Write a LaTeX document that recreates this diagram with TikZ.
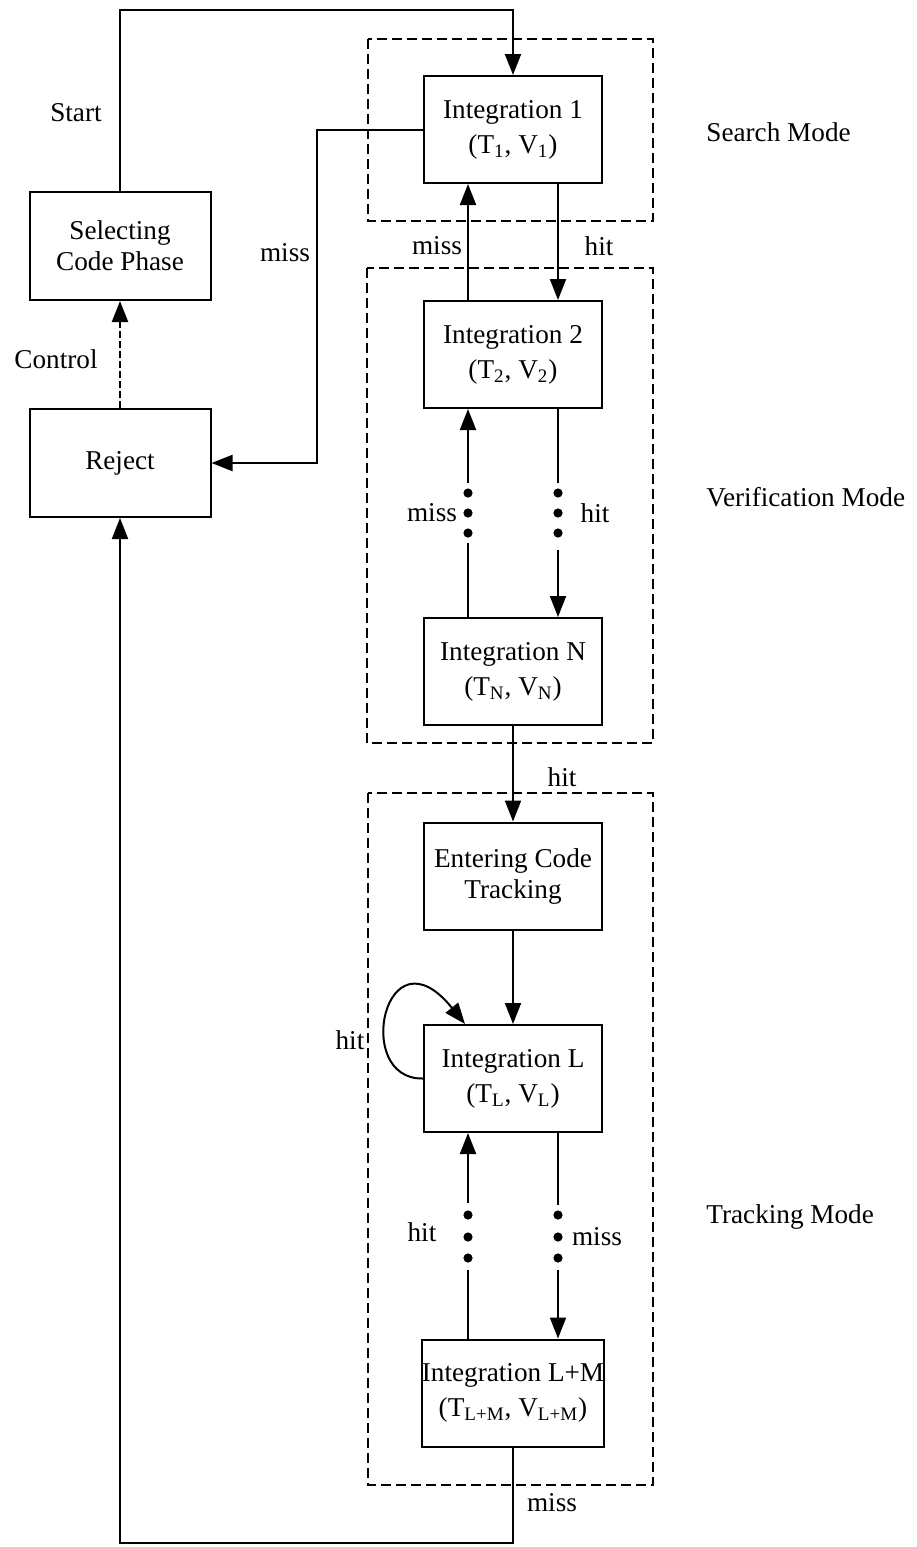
\documentclass[tikz,border=0pt]{standalone}
\usepackage{fontspec}
\setmainfont{Liberation Serif}
\usetikzlibrary{arrows.meta,calc}
\begin{document}
\begin{tikzpicture}[x=0.5pt,y=-0.5pt,
  font=\fontsize{13.6pt}{15.5pt}\selectfont,
  blk/.style={draw,line width=1pt,minimum width=89pt,minimum height=53.5pt,align=center,inner sep=0pt},
  sblk/.style={blk,minimum width=90.5pt,minimum height=54pt},
  conn/.style={line width=1pt},
  arr/.style={conn,-{Triangle[length=10.5pt,width=8pt]}},
  modebox/.style={line width=0.6pt,dash pattern=on 5pt off 2.5pt},
  lbl/.style={inner sep=0pt},
  dotmark/.style={fill=black}
]
\useasboundingbox (0,0) rectangle (916,1547);

% mode frames
\draw[modebox] (368,39) rectangle (653,221);
\draw[modebox] (367,268) rectangle (653,743);
\draw[modebox] (368,793) rectangle (653,1485);

% blocks
\node[blk] (int1) at (513,129.5) {Integration 1\\[2pt](T\textsubscript{1}, V\textsubscript{1})};
\node[blk] (int2) at (513,354.5) {Integration 2\\[2pt](T\textsubscript{2}, V\textsubscript{2})};
\node[blk] (intN) at (513,671.5) {Integration N\\[2pt](T\textsubscript{N}, V\textsubscript{N})};
\node[blk] (enter) at (513,876) {Entering Code\\Tracking};
\node[blk] (intL) at (513,1078.5) {Integration L\\[2pt](T\textsubscript{L}, V\textsubscript{L})};
\node[blk] (intLM) at (513,1393) {Integration L+M\\[2pt](T\textsubscript{L+M}, V\textsubscript{L+M})};
\node[sblk] (select) at (120,246) {Selecting\\Code Phase};
\node[sblk] (reject) at (120,463) {Reject};

% helper coordinates
\coordinate (top) at (315,10);
\coordinate (bot) at (315,1543);
\coordinate (mc) at (317,0);

% start loop
\draw[arr] (select.north) |- (top) -| (int1.north);
% miss from search to reject
\draw[arr] (int1.west) -- (int1.west -| mc) |- (reject.east);
% control
\draw[line width=1.2pt,dash pattern=on 3.5pt off 1.5pt,-{Triangle[length=10.5pt,width=8pt]}] (reject.north) -- (select.south);
% bottom miss loop
\draw[arr] (intLM.south) |- (bot) -| (reject.south);

% search <-> verification
\draw[arr] ($(int1.south)+(45,0)$) -- ($(int2.north)+(45,0)$);
\draw[arr] ($(int2.north)+(-45,0)$) -- ($(int1.south)+(-45,0)$);

% verification chain
\coordinate (vmA) at (468,543);
\coordinate (vmB) at (468,483);
\coordinate (vhA) at (558,483);
\coordinate (vhB) at (558,550);
\draw[conn] ($(intN.north)+(-45,0)$) -- (vmA);
\draw[arr] (vmB) -- ($(int2.south)+(-45,0)$);
\draw[conn] ($(int2.south)+(45,0)$) -- (vhA);
\draw[arr] (vhB) -- ($(intN.north)+(45,0)$);
\foreach \yy in {493,513,533} {
  \fill[dotmark] (468,\yy) circle[radius=2.3pt];
  \fill[dotmark] (558,\yy) circle[radius=2.3pt];
}

% verification -> tracking
\draw[arr] (intN.south) -- (enter.north);
\draw[arr] (enter.south) -- (intL.north);

% self loop
\draw[arr] (intL.west) .. controls (352,1080) and (385,925) .. ($(intL.north)+(-48,0)$);

% tracking chain
\coordinate (thA) at (468,1270);
\coordinate (thB) at (468,1203);
\coordinate (tmA) at (558,1205);
\coordinate (tmB) at (558,1270);
\draw[conn] ($(intLM.north)+(-45,0)$) -- (thA);
\draw[arr] (thB) -- ($(intL.south)+(-45,0)$);
\draw[conn] ($(intL.south)+(45,0)$) -- (tmA);
\draw[arr] (tmB) -- ($(intLM.north)+(45,0)$);
\foreach \yy in {1215,1237,1258} {
  \fill[dotmark] (468,\yy) circle[radius=2.3pt];
  \fill[dotmark] (558,\yy) circle[radius=2.3pt];
}

% labels
\node[lbl] (lStart) at (76,113) {Start};
\node[lbl] (lMissL) at (285,253) {miss};
\node[lbl] (lControl) at (56,359) {Control};
\node[lbl] (lMiss1) at (437,246) {miss};
\node[lbl] (lHit1) at (599,246) {hit};
\node[lbl] (lMiss2) at (432,513) {miss};
\node[lbl] (lHit2) at (595,513) {hit};
\node[lbl] (lHitN) at (562,777) {hit};
\node[lbl] (lHitLoop) at (350,1040) {hit};
\node[lbl] (lHitL) at (422,1232) {hit};
\node[lbl] (lMissL2) at (597,1237) {miss};
\node[lbl] (lMissB) at (552,1503) {miss};
\node[lbl,anchor=west] (mSearch) at (706,132) {Search Mode};
\node[lbl,anchor=west] (mVerif) at (706,497) {Verification Mode};
\node[lbl,anchor=west] (mTrack) at (706,1217) {Tracking Mode};
\end{tikzpicture}
\end{document}
